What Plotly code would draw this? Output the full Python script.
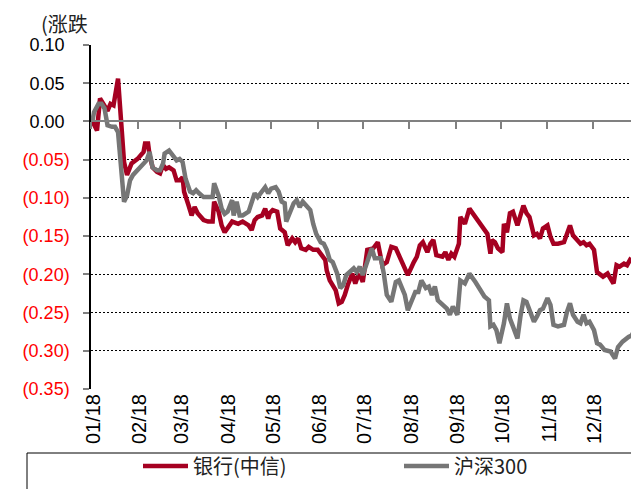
import plotly.graph_objects as go

# ---------------- data ----------------
bank_dates = [
    "2018-01-02", "2018-01-05", "2018-01-07", "2018-01-10", "2018-01-12", "2018-01-14", "2018-01-16",
    "2018-01-19", "2018-01-21", "2018-01-23", "2018-01-25", "2018-01-28", "2018-02-01", "2018-02-05",
    "2018-02-06", "2018-02-08", "2018-02-09", "2018-02-11", "2018-02-14", "2018-02-16", "2018-02-18",
    "2018-02-20", "2018-02-22", "2018-02-25", "2018-02-27", "2018-03-01", "2018-03-03", "2018-03-04",
    "2018-03-07", "2018-03-09", "2018-03-11", "2018-03-13", "2018-03-17", "2018-03-20", "2018-03-23",
    "2018-03-24", "2018-03-27", "2018-03-29", "2018-03-31", "2018-04-05", "2018-04-09", "2018-04-12",
    "2018-04-16", "2018-04-18", "2018-04-20", "2018-04-22", "2018-04-25", "2018-04-27", "2018-04-29",
    "2018-04-30", "2018-05-02", "2018-05-05", "2018-05-07", "2018-05-10", "2018-05-12", "2018-05-15",
    "2018-05-17", "2018-05-19", "2018-05-21", "2018-05-24", "2018-05-26", "2018-05-29", "2018-06-01",
    "2018-06-04", "2018-06-06", "2018-06-07", "2018-06-09", "2018-06-13", "2018-06-15", "2018-06-17",
    "2018-06-19", "2018-06-21", "2018-06-24", "2018-06-26", "2018-06-28", "2018-06-30", "2018-07-01",
    "2018-07-04", "2018-07-08", "2018-07-11", "2018-07-14", "2018-07-17", "2018-07-20", "2018-07-23",
    "2018-07-26", "2018-07-29", "2018-07-31", "2018-08-04", "2018-08-06", "2018-08-08", "2018-08-10",
    "2018-08-13", "2018-08-15", "2018-08-17", "2018-08-19", "2018-08-23", "2018-08-25", "2018-08-27",
    "2018-08-29", "2018-08-31", "2018-09-03", "2018-09-04", "2018-09-07", "2018-09-10", "2018-09-14",
    "2018-09-18", "2018-09-22", "2018-09-24", "2018-09-25", "2018-09-27", "2018-09-29", "2018-10-02",
    "2018-10-03", "2018-10-05", "2018-10-07", "2018-10-09", "2018-10-12", "2018-10-14", "2018-10-16",
    "2018-10-18", "2018-10-20", "2018-10-23", "2018-10-25", "2018-10-27", "2018-10-29", "2018-11-01",
    "2018-11-03", "2018-11-05", "2018-11-08", "2018-11-12", "2018-11-14", "2018-11-16", "2018-11-18",
    "2018-11-21", "2018-11-23", "2018-11-25", "2018-11-27", "2018-11-29", "2018-12-02", "2018-12-04",
    "2018-12-06", "2018-12-08", "2018-12-11", "2018-12-13", "2018-12-15", "2018-12-17", "2018-12-19",
    "2018-12-22", "2018-12-24", "2018-12-26", "2018-12-28", "2018-12-30", "2018-12-31",
]
bank_values = [
    0.000, -0.012, 0.030, 0.019, 0.014, 0.023, 0.021,
    0.056, -0.010, -0.053, -0.070, -0.055, -0.049, -0.040,
    -0.029, -0.029, -0.044, -0.060, -0.066, -0.068, -0.057,
    -0.062, -0.060, -0.064, -0.077, -0.077, -0.073, -0.092,
    -0.110, -0.123, -0.112, -0.120, -0.129, -0.131, -0.131,
    -0.105, -0.118, -0.136, -0.145, -0.131, -0.134, -0.131,
    -0.136, -0.142, -0.129, -0.125, -0.123, -0.114, -0.127,
    -0.120, -0.116, -0.118, -0.140, -0.145, -0.162, -0.153,
    -0.158, -0.153, -0.166, -0.168, -0.164, -0.168, -0.168,
    -0.175, -0.181, -0.195, -0.208, -0.221, -0.238, -0.236,
    -0.227, -0.214, -0.199, -0.212, -0.201, -0.205, -0.210,
    -0.168, -0.166, -0.158, -0.188, -0.184, -0.164, -0.166,
    -0.179, -0.192, -0.201, -0.184, -0.177, -0.162, -0.158,
    -0.171, -0.160, -0.155, -0.175, -0.177, -0.171, -0.181,
    -0.173, -0.177, -0.160, -0.125, -0.134, -0.114, -0.125,
    -0.138, -0.147, -0.173, -0.155, -0.158, -0.166, -0.171,
    -0.134, -0.145, -0.120, -0.118, -0.136, -0.123, -0.110,
    -0.120, -0.125, -0.149, -0.147, -0.153, -0.140, -0.136,
    -0.151, -0.160, -0.160, -0.158, -0.147, -0.136, -0.149,
    -0.155, -0.160, -0.158, -0.162, -0.160, -0.168, -0.197,
    -0.201, -0.203, -0.199, -0.205, -0.212, -0.188, -0.190,
    -0.186, -0.188, -0.181, -0.184, -0.177, -0.164,
]

hs300_dates = [
    "2018-01-02", "2018-01-03", "2018-01-06", "2018-01-08", "2018-01-10", "2018-01-12", "2018-01-15",
    "2018-01-17", "2018-01-19", "2018-01-21", "2018-01-23", "2018-01-25", "2018-01-27", "2018-01-29",
    "2018-02-01", "2018-02-05", "2018-02-07", "2018-02-09", "2018-02-11", "2018-02-14", "2018-02-16",
    "2018-02-18", "2018-02-19", "2018-02-22", "2018-02-25", "2018-02-27", "2018-03-01", "2018-03-03",
    "2018-03-05", "2018-03-08", "2018-03-10", "2018-03-12", "2018-03-14", "2018-03-17", "2018-03-20",
    "2018-03-23", "2018-03-24", "2018-03-27", "2018-03-29", "2018-03-31", "2018-04-02", "2018-04-05",
    "2018-04-06", "2018-04-08", "2018-04-10", "2018-04-12", "2018-04-16", "2018-04-18", "2018-04-20",
    "2018-04-22", "2018-04-25", "2018-04-27", "2018-04-29", "2018-05-01", "2018-05-04", "2018-05-06",
    "2018-05-08", "2018-05-10", "2018-05-11", "2018-05-14", "2018-05-16", "2018-05-18", "2018-05-20",
    "2018-05-22", "2018-05-25", "2018-05-27", "2018-05-29", "2018-05-31", "2018-06-03", "2018-06-05",
    "2018-06-07", "2018-06-09", "2018-06-11", "2018-06-14", "2018-06-16", "2018-06-18", "2018-06-20",
    "2018-06-23", "2018-06-25", "2018-06-27", "2018-06-29", "2018-07-01", "2018-07-04", "2018-07-07",
    "2018-07-09", "2018-07-13", "2018-07-15", "2018-07-17", "2018-07-20", "2018-07-23", "2018-07-25",
    "2018-07-27", "2018-07-29", "2018-07-31", "2018-08-03", "2018-08-05", "2018-08-07", "2018-08-09",
    "2018-08-12", "2018-08-14", "2018-08-16", "2018-08-18", "2018-08-20", "2018-08-24", "2018-08-26",
    "2018-08-28", "2018-08-30", "2018-09-02", "2018-09-04", "2018-09-07", "2018-09-10", "2018-09-14",
    "2018-09-17", "2018-09-20", "2018-09-23", "2018-09-24", "2018-09-26", "2018-09-28", "2018-09-30",
    "2018-10-03", "2018-10-05", "2018-10-07", "2018-10-09", "2018-10-12", "2018-10-14", "2018-10-16",
    "2018-10-18", "2018-10-20", "2018-10-23", "2018-10-25", "2018-10-27", "2018-10-29", "2018-11-01",
    "2018-11-03", "2018-11-05", "2018-11-08", "2018-11-12", "2018-11-14", "2018-11-16", "2018-11-18",
    "2018-11-21", "2018-11-23", "2018-11-25", "2018-11-27", "2018-11-29", "2018-12-02", "2018-12-04",
    "2018-12-06", "2018-12-09", "2018-12-13", "2018-12-16", "2018-12-18", "2018-12-21", "2018-12-25",
    "2018-12-27", "2018-12-29", "2018-12-31",
]
hs300_values = [
    0.001, 0.012, 0.023, 0.023, 0.017, -0.005, -0.007,
    -0.007, -0.014, -0.057, -0.105, -0.097, -0.077, -0.070,
    -0.064, -0.055, -0.051, -0.040, -0.060, -0.064, -0.064,
    -0.055, -0.042, -0.038, -0.047, -0.051, -0.049, -0.053,
    -0.075, -0.092, -0.094, -0.090, -0.094, -0.099, -0.099,
    -0.099, -0.081, -0.097, -0.114, -0.121, -0.118, -0.103,
    -0.123, -0.105, -0.123, -0.123, -0.118, -0.107, -0.094,
    -0.099, -0.092, -0.086, -0.094, -0.088, -0.086, -0.092,
    -0.105, -0.107, -0.131, -0.114, -0.107, -0.103, -0.112,
    -0.105, -0.112, -0.116, -0.134, -0.147, -0.158, -0.160,
    -0.168, -0.181, -0.184, -0.199, -0.218, -0.214, -0.201,
    -0.195, -0.192, -0.197, -0.190, -0.201, -0.184, -0.166,
    -0.179, -0.179, -0.199, -0.227, -0.236, -0.210, -0.208,
    -0.218, -0.227, -0.247, -0.234, -0.223, -0.223, -0.208,
    -0.218, -0.216, -0.227, -0.216, -0.234, -0.242, -0.245,
    -0.253, -0.242, -0.253, -0.208, -0.212, -0.199, -0.210,
    -0.221, -0.229, -0.234, -0.268, -0.266, -0.273, -0.290,
    -0.264, -0.238, -0.258, -0.268, -0.284, -0.255, -0.234,
    -0.236, -0.247, -0.262, -0.255, -0.247, -0.245, -0.231,
    -0.240, -0.266, -0.268, -0.266, -0.249, -0.238, -0.253,
    -0.262, -0.264, -0.253, -0.264, -0.262, -0.273, -0.290,
    -0.292, -0.299, -0.301, -0.310, -0.295, -0.288, -0.282,
    -0.280, -0.273, -0.260,
]

series_names = ["银行(中信)", "沪深300"]
series_colors = ["#A50021", "#767676"]

y_tick_values = [0.10, 0.05, 0.00, -0.05, -0.10, -0.15, -0.20, -0.25, -0.30, -0.35]
y_tick_labels = ["0.10", "0.05", "0.00", "(0.05)", "(0.10)", "(0.15)", "(0.20)", "(0.25)", "(0.30)", "(0.35)"]
y_unit_label = "(涨跌"

x_range = ["2018-01-01", "2018-12-31 23:00"]
y_range = [-0.35, 0.10]

# ---------------- figure ----------------
latin_font = "Arial, Liberation Sans, sans-serif"
cjk_font = "Noto Sans CJK SC, sans-serif"

ticktext = []
for v, t in zip(y_tick_values, y_tick_labels):
    if v < 0:
        ticktext.append('<span style="color:#FF0000">' + t + "</span>")
    else:
        ticktext.append(t + "\u00a0")

fig = go.Figure()
fig.add_trace(go.Scatter(x=bank_dates, y=bank_values, mode="lines", name=series_names[0],
                         line=dict(color=series_colors[0], width=4.5)))
fig.add_trace(go.Scatter(x=hs300_dates, y=hs300_values, mode="lines", name=series_names[1],
                         line=dict(color=series_colors[1], width=4.5)))
# helper (empty) trace so the zero-line axis carrying the month ticks is drawn
fig.add_trace(go.Scatter(x=[], y=[], xaxis="x2", yaxis="y", showlegend=False, hoverinfo="skip"))

zero_pos = (0 - y_range[0]) / (y_range[1] - y_range[0])

# the page body adds an 8px offset, so the figure is 8px smaller and margins are shifted
fig.update_layout(
    width=631, height=481,
    margin=dict(l=83, r=0, t=37, b=100, autoexpand=False),
    plot_bgcolor="white", paper_bgcolor="white",
    xaxis=dict(
        type="date", range=x_range, tick0="2018-01-01", dtick="M1", tickformat="%m/%y",
        tickangle=-90, ticks="", showgrid=False, zeroline=False, showline=False,
        ticklabelshift=2,
        tickfont=dict(family=latin_font, size=20, color="#000000"),
    ),
    xaxis2=dict(
        type="date", overlaying="x", matches="x", anchor="free", position=zero_pos,
        range=x_range, tick0="2018-01-01", dtick="M1",
        showline=True, linecolor="#808080", linewidth=2,
        ticks="outside", ticklen=7, tickwidth=2, tickcolor="#808080",
        showticklabels=False, showgrid=False, zeroline=False,
    ),
    yaxis=dict(
        range=y_range, tickmode="array", tickvals=y_tick_values, ticktext=ticktext,
        showgrid=True, gridcolor="#000000", gridwidth=1, griddash="2px,2px",
        zeroline=False, showline=True, linecolor="#000000", linewidth=1.5,
        ticks="outside", ticklen=6, tickwidth=2, tickcolor="#808080",
        ticklabelstandoff=10,
        tickfont=dict(family=latin_font, size=18, color="#000000"),
    ),
    showlegend=True,
    legend=dict(
        orientation="h", x=(138 - 91) / 548, y=(389 - 466) / 344,
        xanchor="left", yanchor="middle",
        font=dict(family=cjk_font, size=20, color="#222222"),
        itemwidth=45, entrywidth=201, entrywidthmode="pixels",
        bgcolor="rgba(0,0,0,0)", borderwidth=0,
    ),
    annotations=[dict(
        text=y_unit_label, xref="paper", yref="paper",
        x=(40 - 91) / 548, y=(389 - 23) / 344, xanchor="left", yanchor="middle",
        showarrow=False, borderpad=0,
        font=dict(family=cjk_font, size=20, color="#222222"),
    )],
    shapes=[dict(
        type="rect", xref="paper", yref="paper",
        x0=(27 - 91) / 548, x1=1.02, y0=(389 - 453) / 344, y1=(389 - 500) / 344,
        line=dict(color="#000000", width=1), fillcolor="rgba(0,0,0,0)",
    )],
)

fig.write_html("out.html")
